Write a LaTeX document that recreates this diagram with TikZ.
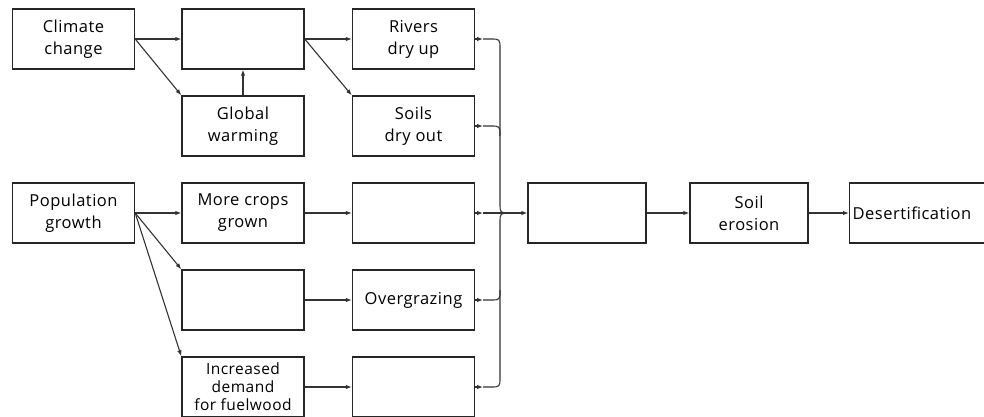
\documentclass[tikz,border=0pt]{standalone}
\usepackage{fontspec}
\setmainfont{Open Sans}[LetterSpace=3]
\usetikzlibrary{arrows.meta}
\begin{document}
\begin{tikzpicture}[x=1pt,y=-1pt,
  box/.style={draw=black!85, line width=1.4pt, minimum width=122pt, minimum height=60pt,
    align=center, inner sep=0pt, font=\fontsize{16.5}{22}\selectfont},
  link/.style={line width=1.1pt, draw=black!80},
  arr/.style={link, -{Latex[length=6pt,width=4.5pt]}}]
\useasboundingbox (0,0) rectangle (984,416);
\clip (0,0) rectangle (984,416);
% column 1
\node[box] (cc) at (73.5,39) {Climate\\change};
\node[box] (pg) at (73.5,213) {Population\\growth};
% column 2
\node[box] (b2) at (243,39) {};
\node[box] (gw) at (243,126) {Global\\warming};
\node[box] (mc) at (243,213) {More crops\\grown};
\node[box] (b4) at (243,300) {};
\node[box, font=\fontsize{15.5}{18}\selectfont] (fw) at (243,387) {Increased\\demand\\for fuelwood};
% column 3
\node[box] (rd) at (413.5,39) {Rivers\\dry up};
\node[box] (sd) at (413.5,126) {Soils\\dry out};
\node[box] (c3) at (413.5,213) {};
\node[box] (og) at (413.5,300) {Overgrazing};
\node[box] (c5) at (413.5,387) {};
% right side
\node[box, minimum width=118pt] (mg) at (587,213) {};
\node[box, minimum width=118pt] (se) at (749,213) {Soil\\erosion};
\node[box, anchor=west, inner xsep=3pt, text width=200pt, align=left] (de) at (849,213) {Desertification};
% left arrows
\draw[arr] (cc.east) -- (b2.west);
\draw[arr] (cc.east) -- (gw.north west);
\draw[arr] (gw.north) -- (b2.south);
\draw[arr] (b2.east) -- (rd.west);
\draw[arr] (b2.east) -- (sd.north west);
\draw[arr] (pg.east) -- (mc.west);
\draw[arr] (pg.east) -- (b4.north west);
\draw[arr] (pg.east) -- (fw.north west);
\draw[arr] (mc.east) -- (c3.west);
\draw[arr] (b4.east) -- (og.west);
\draw[arr] (fw.east) -- (c5.west);
% bus
\coordinate (k1) at (483,39);
\coordinate (k2) at (483,126);
\coordinate (k3) at (483,213);
\coordinate (k4) at (483,300);
\coordinate (k5) at (483,387);
\draw[arr] (rd.east) -- (k1);
\draw[arr] (sd.east) -- (k2);
\draw[arr] (c3.east) -- (k3);
\draw[arr] (og.east) -- (k4);
\draw[arr] (c5.east) -- (k5);
\draw[link] (k1) -- (490,39) .. controls (500,39) .. (500,49) -- (500,203) .. controls (500,213) .. (510,213);
\draw[link] (k2) -- (490,126) .. controls (500,126) .. (500,136);
\draw[link] (k5) -- (490,387) .. controls (500,387) .. (500,377) -- (500,223) .. controls (500,213) .. (510,213);
\draw[link] (k4) -- (490,300) .. controls (500,300) .. (500,290);
\draw[arr] (k3) -- (mg.west);
\draw[arr] (mg.east) -- (se.west);
\draw[arr] (se.east) -- (de.west);
\end{tikzpicture}
\end{document}
